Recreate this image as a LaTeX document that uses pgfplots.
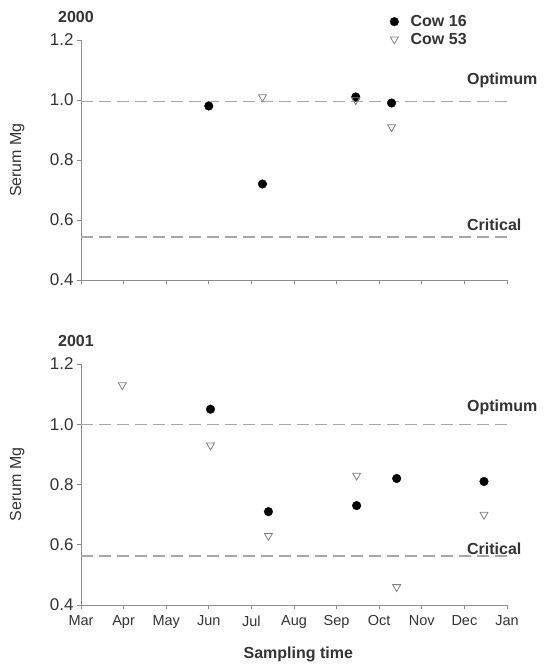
\documentclass[border=0pt]{standalone}
\usepackage{pgfplots}
\pgfplotsset{compat=1.18}
\usepackage{fontspec}
\setmainfont{Liberation Sans}
\definecolor{axgray}{HTML}{8C8C8C}
\definecolor{txtgray}{HTML}{333333}
\definecolor{refgray}{HTML}{A8A8A8}
\definecolor{trigray}{HTML}{808080}
\tikzset{lbl/.style={anchor=south west, font=\bfseries\fontsize{16}{18}\selectfont, text=txtgray, inner sep=0pt}}
\pgfplotsset{
  myaxis/.style={
    scale only axis, width=426pt, height=240pt,
    xmin=0, xmax=10, ymin=0.4, ymax=1.2,
    axis x line*=bottom, axis y line*=left,
    axis line style={axgray, line width=0.8pt},
    tick style={axgray, line width=0.8pt},
    tick align=outside, major tick length=4pt,
    xtick={0,...,10}, ytick={0.4,0.6,0.8,1.0,1.2},
    yticklabel style={/pgf/number format/fixed, /pgf/number format/fixed zerofill, /pgf/number format/precision=1, font=\fontsize{17}{18}\selectfont, text=txtgray},
    xticklabel style={font=\fontsize{14.5}{16}\selectfont, text=txtgray, yshift=-3pt},
    /pgf/number format/assume math mode=true,
    ylabel={Serum Mg},
    ylabel style={at={(axis description cs:-0.15,0.5)}, anchor=center, font=\fontsize{16}{18}\selectfont, text=txtgray},
    clip=false,
  },
  c16/.style={only marks, mark=*, mark size=4.3pt, mark options={fill=black, draw=black}},
  c53/.style={only marks, mark=triangle, mark size=4.6pt, mark options={rotate=180, draw=trigray, fill=white, line width=0.8pt}},
  refl/.style={refgray, line width=1.4pt, dash pattern=on 12pt off 6pt, forget plot},
}
\begin{document}
\begin{tikzpicture}
\path[use as bounding box] (0,0) rectangle (550pt,666pt);
% Top panel 2000
\begin{axis}[myaxis, at={(81pt,386pt)}, anchor=south west,
  xticklabels={},
  legend style={at={(0.725,1.112)}, anchor=north west, draw=none, fill=none,
    font=\bfseries\fontsize{16}{18}\selectfont, text=txtgray, row sep=1pt, inner sep=0pt,
    /tikz/every odd column/.append style={column sep=10pt}},
  legend cell align=left]
\addplot[refl] coordinates {(0,0.995) (10,0.995)};
\addplot[refl] coordinates {(0,0.543) (10,0.543)};
\addplot[c16] coordinates {(3.0,0.98) (4.26,0.72) (6.45,1.01) (7.29,0.99)};
\addlegendentry{Cow 16}
\addplot[c53] coordinates {(4.26,1.01) (6.45,1.0) (7.29,0.91)};
\addlegendentry{Cow 53}
\node[lbl] at (axis cs:9.06,1.04) {Optimum};
\node[lbl] at (axis cs:9.06,0.565) {Critical};
\end{axis}
% Bottom panel 2001
\begin{axis}[myaxis, at={(81pt,61pt)}, anchor=south west, height=241pt,
  xticklabels={Mar,Apr,May,Jun,Jul,Aug,Sep,Oct,Nov,Dec,Jan},
  xlabel={Sampling time},
  xlabel style={font=\bfseries\fontsize{16}{18}\selectfont, text=txtgray, at={(axis description cs:0.51,0)}, anchor=north, yshift=-38pt}]
\addplot[refl] coordinates {(0,1.0) (10,1.0)};
\addplot[refl] coordinates {(0,0.562) (10,0.562)};
\addplot[c16] coordinates {(3.04,1.05) (4.4,0.71) (6.47,0.73) (7.41,0.82) (9.46,0.81)};
\addplot[c53] coordinates {(0.97,1.13) (3.04,0.93) (4.4,0.63) (6.47,0.83) (7.41,0.46) (9.46,0.70)};
\node[lbl] at (axis cs:9.06,1.03) {Optimum};
\node[lbl] at (axis cs:9.06,0.567) {Critical};
\end{axis}
\node[anchor=base west, font=\bfseries\fontsize{16}{18}\selectfont, text=txtgray, inner sep=0pt] at (58pt,643pt) {2000};
\node[anchor=base west, font=\bfseries\fontsize{16}{18}\selectfont, text=txtgray, inner sep=0pt] at (58pt,319pt) {2001};
\end{tikzpicture}
\end{document}
